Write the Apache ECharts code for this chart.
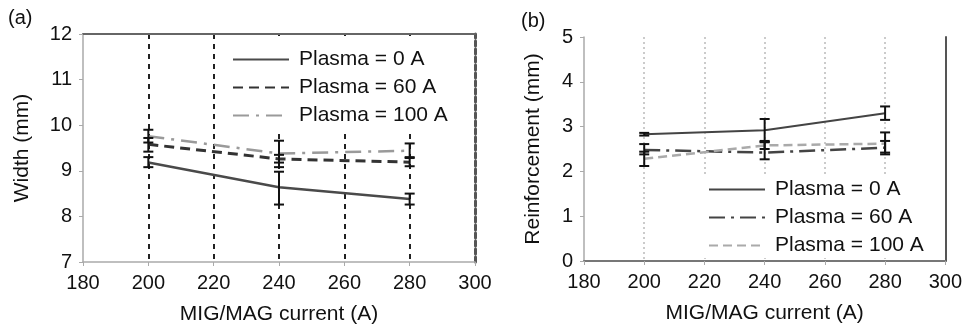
<!DOCTYPE html>
<html>
<head>
<meta charset="utf-8">
<script src="https://cdn.jsdelivr.net/npm/echarts@6/dist/echarts.min.js"></script>
<style>
html,body{margin:0;padding:0;background:#fff;}
#chart{width:965px;height:332px;}
</style>
</head>
<body>
<div id="chart"></div>
<script>
// ---- data ----
var currents = [200, 240, 280];
var legendLabels = ['Plasma = 0 A', 'Plasma = 60 A', 'Plasma = 100 A'];
var xTicks = [180, 200, 220, 240, 260, 280, 300];

// (a) Width (mm)
var width0 = [9.18, 8.64, 8.38];
var width0Lo = [9.08, 8.26, 8.26];
var width0Hi = [9.30, 8.98, 8.50];
var width60 = [9.58, 9.26, 9.19];
var width60Lo = [9.42, 9.08, 9.10];
var width60Hi = [9.72, 9.35, 9.30];
var width100 = [9.76, 9.38, 9.44];
var width100Lo = [9.62, 9.18, 9.28];
var width100Hi = [9.90, 9.66, 9.60];

// (b) Reinforcement (mm)
var reinf0 = [2.83, 2.92, 3.30];
var reinf0Lo = [2.80, 2.66, 3.15];
var reinf0Hi = [2.86, 3.17, 3.45];
var reinf60 = [2.48, 2.42, 2.53];
var reinf60Lo = [2.38, 2.27, 2.38];
var reinf60Hi = [2.61, 2.65, 2.68];
var reinf100 = [2.28, 2.58, 2.62];
var reinf100Lo = [2.12, 2.50, 2.42];
var reinf100Hi = [2.44, 2.68, 2.87];

// ---- helpers ----
function pts(ys){ return currents.map(function(x,i){ return [x, ys[i]]; }); }
function bars(lo, hi){ return currents.map(function(x,i){ return [x, lo[i], hi[i]]; }); }
var FONT = 'Liberation Sans, Arial, sans-serif';
var nameMap = {a0:legendLabels[0], a60:legendLabels[1], a100:legendLabels[2],
               b0:legendLabels[0], b60:legendLabels[1], b100:legendLabels[2]};

function errRender(params, api){
  var x = api.value(0), lo = api.value(1), hi = api.value(2);
  var p1 = api.coord([x, lo]), p2 = api.coord([x, hi]);
  var w = 5, st = {stroke:'#111', lineWidth:2};
  return {type:'group', children:[
    {type:'line', shape:{x1:p1[0], y1:p1[1], x2:p2[0], y2:p2[1]}, style:st},
    {type:'line', shape:{x1:p1[0]-w, y1:p1[1], x2:p1[0]+w, y2:p1[1]}, style:st},
    {type:'line', shape:{x1:p2[0]-w, y1:p2[1], x2:p2[0]+w, y2:p2[1]}, style:st}
  ]};
}
function errSeries(idx, lo, hi){
  return {type:'custom', xAxisIndex:idx, yAxisIndex:idx, renderItem:errRender,
    data:bars(lo,hi), encode:{x:0, y:[1,2]}, z:5, silent:true};
}
function lineSeries(name, idx, ys, color, width, dash){
  return {type:'line', name:name, xAxisIndex:idx, yAxisIndex:idx, data:pts(ys),
    symbol:'none', lineStyle:{color:color, width:width, type:dash}, itemStyle:{color:color}, z:3, silent:true};
}
function bottomX(gi, splitStyle){
  return {type:'value', gridIndex:gi, min:180, max:300, interval:20,
    axisLine:{show:true, lineStyle:{color:'#aaa', width:1.5}},
    axisTick:{show:true, length:4, lineStyle:{color:'#aaa'}},
    axisLabel:{fontSize:20, color:'#111', fontFamily:FONT, margin:11},
    splitLine:{show:true, showMinLine:false, showMaxLine:false, lineStyle:splitStyle},
    name:'MIG/MAG current (A)', nameLocation:'middle', nameGap:42,
    nameTextStyle:{fontSize:21, color:'#111', fontFamily:FONT}};
}
function topX(gi, color){
  return {type:'value', gridIndex:gi, position:'top', min:180, max:300, interval:20,
    axisLine:{show:true, lineStyle:{color:color, width:2}}, axisTick:{show:false},
    axisLabel:{show:false}, splitLine:{show:false}};
}
function leftY(gi, min, max, name, gap){
  return {type:'value', gridIndex:gi, min:min, max:max, interval:1,
    axisLine:{show:true, lineStyle:{color:'#aaa', width:1.5}},
    axisTick:{show:true, length:4, lineStyle:{color:'#aaa'}},
    axisLabel:{fontSize:20, color:'#111', fontFamily:FONT, margin:11},
    splitLine:{show:false},
    name:name, nameLocation:'middle', nameRotate:90, nameGap:gap,
    nameTextStyle:{fontSize:21, color:'#111', fontFamily:FONT}};
}
function rightY(gi, min, max, ls){
  return {type:'value', gridIndex:gi, position:'right', min:min, max:max, interval:1,
    axisLine:{show:true, lineStyle:ls}, axisTick:{show:false},
    axisLabel:{show:false}, splitLine:{show:false}};
}
function legend(left, top, pad, names){
  return {orient:'vertical', left:left, top:top, padding:pad, itemWidth:56, itemHeight:14, itemGap:7,
    data:names, selectedMode:false, backgroundColor:'#fff',
    itemStyle:{opacity:0, borderWidth:0},
    formatter:function(n){ return nameMap[n]; },
    textStyle:{fontSize:21, color:'#111', fontFamily:FONT, lineHeight:20, padding:[0,0,0,5]}};
}

var chart = echarts.init(document.getElementById('chart'), null, {renderer:'canvas'});
chart.setOption({
  animation:false,
  backgroundColor:'#fff',
  title:[
    {text:'(a)', left:8, top:8, padding:0, textStyle:{fontSize:20, fontWeight:'normal', color:'#111', fontFamily:FONT}},
    {text:'(b)', left:521, top:11, padding:0, textStyle:{fontSize:20, fontWeight:'normal', color:'#111', fontFamily:FONT}}
  ],
  grid:[
    {left:83, top:34, width:392, height:228},
    {left:584, top:37, width:366, height:224}
  ],
  legend:[
    legend(225, 36, [13, 12, 3, 7], ['a0','a60','a100']),
    legend(700, 174, [5, 6, 2, 8], ['b0','b60','b100'])
  ],
  xAxis:[
    bottomX(0, {color:'#222', width:2, type:[5,5]}),
    bottomX(1, {color:'#bbb', width:1.5, type:[2,3]}),
    topX(0, '#666'),
    topX(1, '#777')
  ],
  yAxis:[
    leftY(0, 7, 12, 'Width (mm)', 50),
    leftY(1, 0, 5, 'Reinforcement (mm)', 40),
    rightY(0, 7, 12, {color:'#555', width:3, type:[5,3]}),
    rightY(1, 0, 5, {color:'#555', width:2})
  ],
  series:[
    lineSeries('a0', 0, width0, '#4a4a4a', 2.5, 'solid'),
    lineSeries('a60', 0, width60, '#333', 3, [10,6]),
    lineSeries('a100', 0, width100, '#9a9a9a', 2.5, [16,7,3,7]),
    errSeries(0, width0Lo, width0Hi),
    errSeries(0, width60Lo, width60Hi),
    errSeries(0, width100Lo, width100Hi),
    lineSeries('b0', 1, reinf0, '#444', 2, 'solid'),
    lineSeries('b60', 1, reinf60, '#444', 2.5, [16,6,3,6]),
    lineSeries('b100', 1, reinf100, '#aaa', 2.5, [9,5]),
    errSeries(1, reinf0Lo, reinf0Hi),
    errSeries(1, reinf60Lo, reinf60Hi),
    errSeries(1, reinf100Lo, reinf100Hi)
  ]
});
</script>
</body>
</html>
